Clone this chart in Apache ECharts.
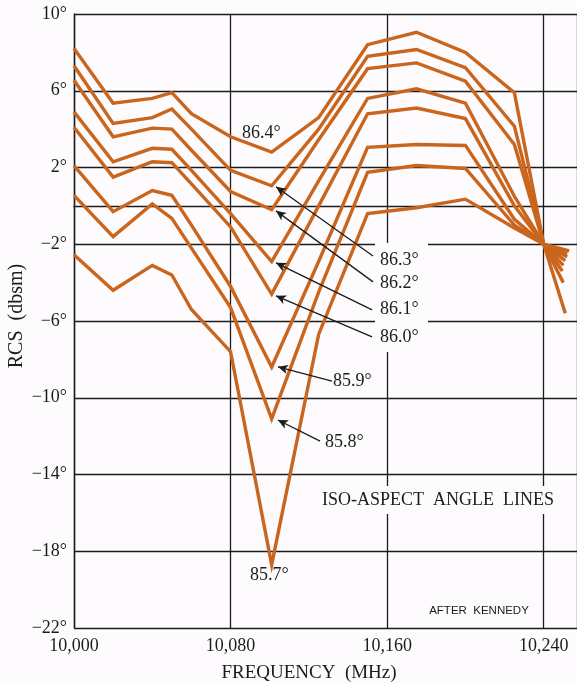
<!DOCTYPE html>
<html><head><meta charset="utf-8">
<script src="https://cdn.jsdelivr.net/npm/echarts@6/dist/echarts.min.js"></script>
<style>html,body{margin:0;padding:0;background:#fdfbfd}#c{width:577px;height:683px}</style>
</head><body><div id="c"></div>
<script>
// ---- data ----
const freqs = [10000,10020,10040,10050,10060,10080,10101,10125,10150,10175,10200,10225,10240];
const angles = ['86.4°','86.3°','86.2°','86.1°','86.0°','85.9°','85.8°','85.7°'];
const rcs864 = [8.2, 5.35, 5.6, 5.9, 4.8, 3.6, 2.8, 4.6, 8.4, 9.05, 8.0, 5.9, -2.0];
const rcs863 = [7.3, 4.3, 4.6, 5.05, 4.0, 1.85, 1.05, 4.0, 7.8, 8.15, 7.2, 4.15, -2.0];
const rcs862 = [6.55, 3.6, 4.05, 4.0, 2.9, 0.75, -0.2, 3.45, 7.15, 7.45, 6.5, 3.2, -2.0];
const rcs861 = [4.9, 2.3, 3.0, 2.95, 1.85, -0.4, -2.9, 1.3, 5.6, 6.1, 5.35, 0.5, -2.0];
const rcs860 = [4.1, 1.5, 2.3, 2.25, 1.15, -1.1, -4.6, 0.0, 4.8, 5.1, 4.55, 0.0, -2.0];
const rcs859 = [2.1, -0.3, 0.8, 0.55, -1.0, -4.2, -8.4, -2.9, 3.05, 3.2, 3.15, -0.7, -2.0];
const rcs858 = [0.55, -1.6, 0.1, -0.65, -2.2, -5.3, -11.1, -4.5, 1.75, 2.1, 1.95, -1.0, -2.0];
const rcs857 = [-2.55, -4.4, -3.1, -3.6, -5.4, -7.6, -18.7, -6.7, -0.4, -0.1, 0.35, -1.15, -2.0];
const endFreqs  = [10251, 10250, 10249.5, 10250, 10251, 10252, 10252, 10253];
const endValues = [-5.6, -4.0, -3.4, -3.1, -2.85, -2.65, -2.5, -2.35];
// arrows: tail (near label) -> tip (at the dip)
const arrowTails = [[10152.8,-2.61],[10152.8,-3.96],[10152.3,-5.42],[10152.3,-6.83],[10131.8,-9.13],[10125.7,-12.26]];
const arrowTips  = [[10103.2,1.0],[10103.2,-0.26],[10103.2,-2.97],[10103.2,-4.69],[10104.2,-8.39],[10104.2,-11.16]];
const xTicks = [10000,10080,10160,10240];
const xTickLabels = ['10,000','10,080','10,160','10,240'];
const yTicks = [10,6,2,-2,-6,-10,-14,-18,-22];
const yTickLabels = ['10°','6°','2°','−2°','−6°','−10°','−14°','−18°','−22°'];

// ---- chart ----
const allRcs = [rcs864,rcs863,rcs862,rcs861,rcs860,rcs859,rcs858,rcs857];
const ORANGE = '#c9651c';
const INK = '#1c1c1c';
const SERIF = '"Liberation Serif","DejaVu Serif",serif';

const series = allRcs.map((vals, i) => ({
  name: angles[i], type: 'line', symbol: 'none', animation: false, silent: true,
  lineStyle: {color: ORANGE, width: 3.4, join: 'miter'},
  data: freqs.map((f, j) => [f, vals[j]]).concat([[endFreqs[i], endValues[i]]]),
  z: 3
}));
series.push({
  type: 'line', data: [], silent: true, animation: false,
  markLine: {
    silent: true, animation: false, symbolSize: [7, 10],
    lineStyle: {color: INK, width: 1.3, type: 'solid'},
    label: {show: false},
    data: arrowTails.map((t, i) => [
      {coord: t, symbol: 'none'},
      {coord: arrowTips[i], symbol: 'arrow'}
    ])
  }, z: 4
});

const labelPos = [[242,133],[380,260],[380,283],[380,309],[380,337],[333,381],[325,442],[250,575]];
const graphics = [
  {type: 'rect', shape: {x: 375, y: 243, width: 53, height: 109}, style: {fill: '#fdfbfd'}, z: 50}
];
angles.forEach((a, i) => graphics.push({
  type: 'text', x: labelPos[i][0], y: labelPos[i][1], z: 60,
  style: {text: a, font: '18px ' + SERIF, fill: INK, align: 'left', verticalAlign: 'middle'}
}));
graphics.push({type: 'text', x: 438, y: 500, z: 60,
  style: {text: 'ISO-ASPECT  ANGLE  LINES', font: '18px ' + SERIF, fill: INK, align: 'center', verticalAlign: 'middle',
          backgroundColor: '#fdfbfd', padding: [5, 4]}});
graphics.push({type: 'text', x: 479, y: 611, z: 60,
  style: {text: 'AFTER  KENNEDY', font: '11.5px "Liberation Sans","DejaVu Sans",sans-serif', fill: INK, align: 'center', verticalAlign: 'middle'}});
graphics.push({type: 'text', x: 309, y: 673, z: 60,
  style: {text: 'FREQUENCY  (MHz)', font: '19px ' + SERIF, fill: INK, align: 'center', verticalAlign: 'middle'}});
graphics.push({type: 'text', x: 17, y: 316, z: 60, rotation: Math.PI / 2,
  style: {text: 'RCS  (dbsm)', font: '20px ' + SERIF, fill: INK, align: 'center', verticalAlign: 'middle'}});

const option = {
  backgroundColor: '#fdfbfd',
  animation: false,
  grid: {left: 74, right: 0, top: 14, bottom: 55, containLabel: false},
  xAxis: {
    type: 'value', min: 10000, max: 10257, interval: 80,
    axisLine: {show: true, lineStyle: {color: INK, width: 1.4}},
    axisTick: {show: false},
    splitLine: {show: true, lineStyle: {color: INK, width: 1.3}},
    axisLabel: {
      showMaxLabel: false, margin: 9, color: INK, fontFamily: SERIF, fontSize: 18,
      formatter: v => { const k = xTicks.indexOf(v); return k >= 0 ? xTickLabels[k] : ''; }
    }
  },
  yAxis: {
    type: 'value', min: -22, max: 10, interval: 4,
    axisLine: {show: true, lineStyle: {color: INK, width: 1.4}},
    axisTick: {show: false},
    splitLine: {show: true, lineStyle: {color: INK, width: 1.3}},
    axisLabel: {
      margin: 7, color: INK, fontFamily: SERIF, fontSize: 18,
      formatter: v => { const k = yTicks.indexOf(v); return k >= 0 ? yTickLabels[k] : ''; }
    }
  },
  graphic: {elements: graphics},
  series: series
};
const chart = echarts.init(document.getElementById('c'), null, {renderer: 'canvas'});
chart.setOption(option);
</script></body></html>
